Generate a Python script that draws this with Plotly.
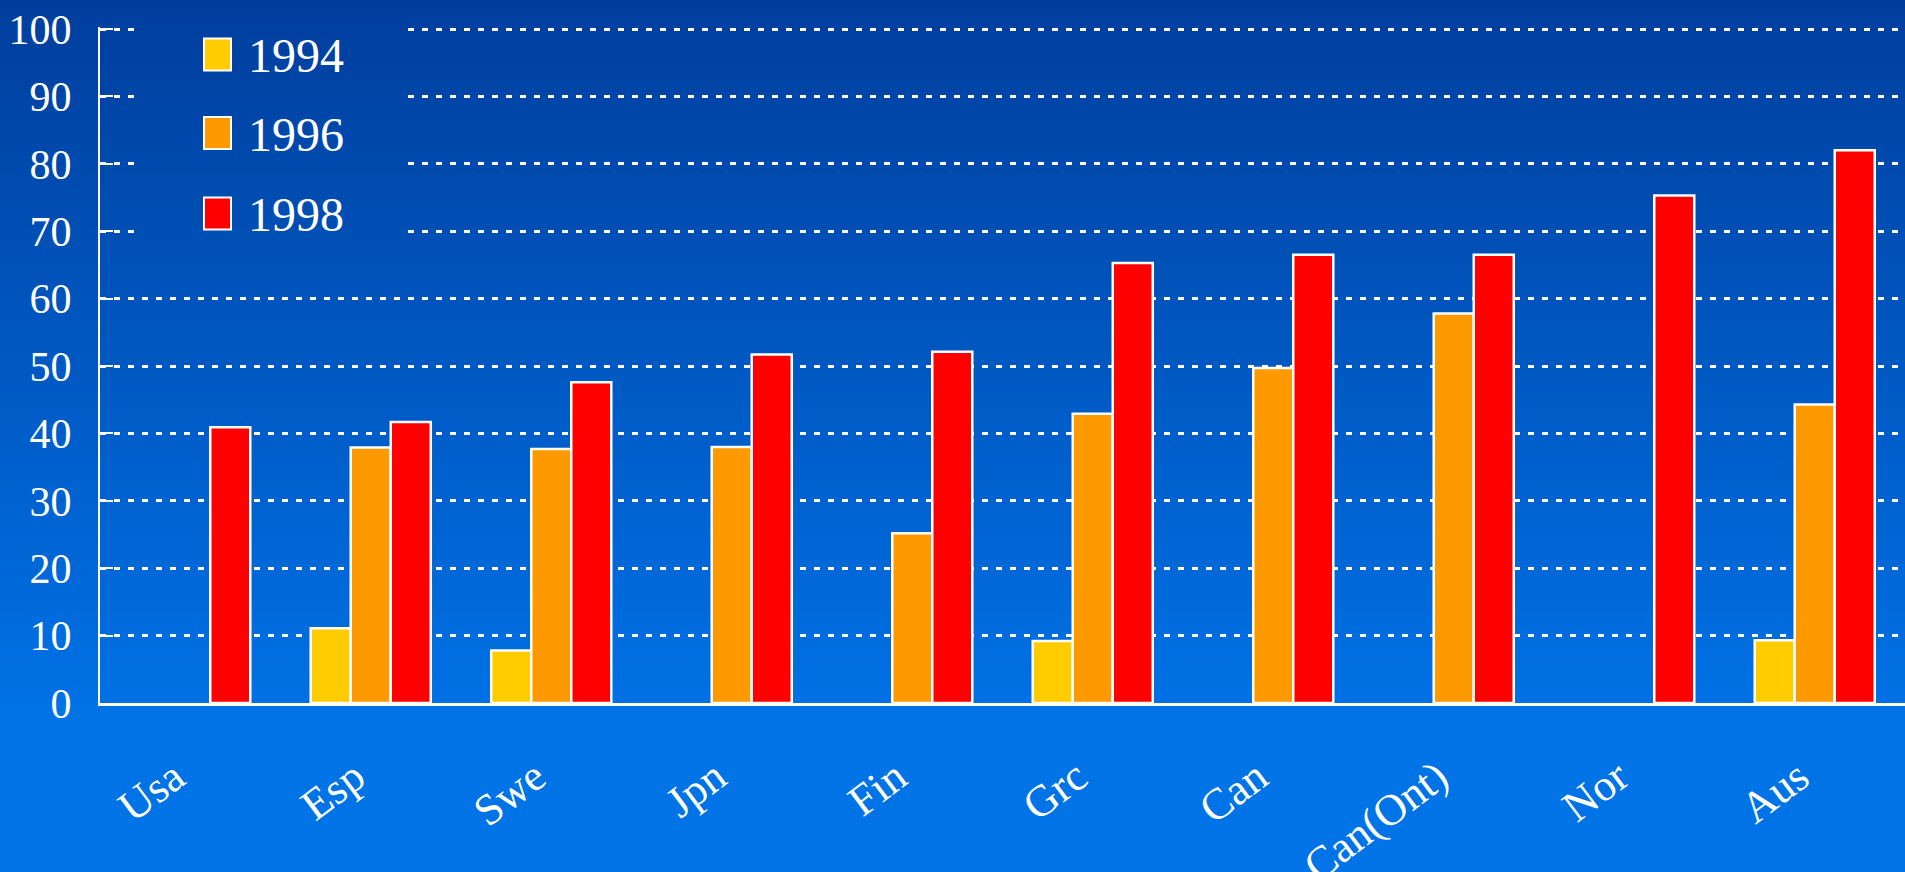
import plotly.graph_objects as go

# ---------------- data ----------------
categories = ["Usa", "Esp", "Swe", "Jpn", "Fin", "Grc", "Can", "Can(Ont)", "Nor", "Aus"]
series_names = ["1994", "1996", "1998"]
values_1994 = [None, 11.1, 7.8, None, None, 9.2, None, None, None, 9.3]
values_1996 = [None, 37.9, 37.7, 38.0, 25.2, 42.9, 49.7, 57.8, None, 44.3]
values_1998 = [40.9, 41.7, 47.6, 51.7, 52.1, 65.3, 66.5, 66.5, 75.3, 82.0]
y_ticks = [0, 10, 20, 30, 40, 50, 60, 70, 80, 90, 100]

# ---------------- style ----------------
colors = ["#FFCC00", "#FF9900", "#FF0000"]
FONT = "Liberation Serif, Times New Roman, serif"
W, H = 1905, 872
ML, MR, MT, MB = 100, 0, 27, 169
PW = W - ML - MR
PH = H - MT - MB
BASE_Y = H - MB
Y_TOP = 100.3


def px_x(px):
    return (px - ML) / PW


def px_y(py):
    return (BASE_Y - py) / PH


def grad(py):
    t = max(0.0, min(1.0, py / BASE_Y))
    top = (0, 62, 157)
    bot = (0, 113, 229)
    c = [round(a + (b - a) * t) for a, b in zip(top, bot)]
    return "rgb(%d,%d,%d)" % tuple(c)


fig = go.Figure()
for name, vals, col in zip(series_names, [values_1994, values_1996, values_1998], colors):
    fig.add_trace(go.Bar(
        x=categories, y=vals, name=name,
        marker=dict(color=col, line=dict(color="white", width=2.5)),
        showlegend=False,
    ))

shapes = []
# background gradient (below everything)
step = 4
py = -8
while py < BASE_Y:
    shapes.append(dict(
        type="rect", xref="paper", yref="paper", layer="below",
        x0=px_x(-5), x1=px_x(W + 5), y0=px_y(min(py + step + 0.6, BASE_Y + 1)), y1=px_y(py),
        fillcolor=grad(py + step / 2), line=dict(width=0),
    ))
    py += step

# patch hiding the gridlines behind the legend
py = 8
while py < 244:
    shapes.append(dict(
        type="rect", xref="paper", yref="paper", layer="above",
        x0=px_x(135), x1=px_x(405), y0=px_y(min(py + step + 0.6, 244)), y1=px_y(py),
        fillcolor=grad(py + step / 2), line=dict(width=0),
    ))
    py += step

# legend swatches + text
annotations = []
legend_centers = [54.5, 133, 213.5]
for name, col, cy in zip(series_names, colors, legend_centers):
    shapes.append(dict(
        type="rect", xref="paper", yref="paper", layer="above",
        x0=px_x(204), x1=px_x(231), y0=px_y(cy + 16), y1=px_y(cy - 16),
        fillcolor=col, line=dict(color="white", width=2),
    ))
    annotations.append(dict(
        xref="paper", yref="paper", x=px_x(246), y=px_y(cy + 1),
        xanchor="left", yanchor="middle", text=name, showarrow=False,
        font=dict(family=FONT, size=48, color="white"),
    ))

fig.update_layout(
    width=W, height=H,
    margin=dict(l=ML, r=MR, t=MT, b=MB, pad=0),
    paper_bgcolor="#0073E6",
    plot_bgcolor="rgba(0,0,0,0)",
    barmode="group", bargap=0.335, bargroupgap=0,
    shapes=shapes, annotations=annotations,
    showlegend=False,
    xaxis=dict(
        showline=True, linecolor="white", linewidth=3,
        ticks="", tickangle=-37, showgrid=False,
        tickfont=dict(family=FONT, size=44, color="white"),
        ticklabelstandoff=28, ticklabelshift=-16,
        automargin=False,
        fixedrange=True,
    ),
    yaxis=dict(
        range=[0, Y_TOP], tickvals=y_ticks,
        ticks="inside", ticklen=13, tickwidth=2, tickcolor="white",
        showline=True, linecolor="white", linewidth=2,
        showgrid=True, gridcolor="white", gridwidth=3, griddash="6px,8px",
        zeroline=False,
        tickfont=dict(family=FONT, size=42, color="white"),
        ticklabelstandoff=18,
        automargin=False,
        fixedrange=True,
    ),
)

fig.write_html("out.html", config={"displayModeBar": False})
